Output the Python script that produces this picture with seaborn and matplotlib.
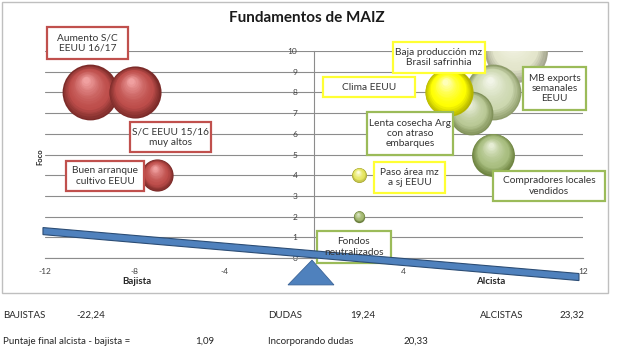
import numpy as np
import matplotlib
matplotlib.use('Agg')
import matplotlib.pyplot as plt
import matplotlib.transforms as mtransforms
from matplotlib.colors import to_rgb
from matplotlib.patches import Rectangle, Polygon
import seaborn as sns

# factores del maiz (orden de dibujo)
factores = ['Aumento S/C\nEEUU 16/17', 'S/C EEUU 15/16\nmuy altos', 'Buen arranque\ncultivo EEUU',
            'Baja producción mz\nBrasil safrinhia', 'MB exports\nsemanales\nEEUU',
            'Lenta cosecha Arg\ncon atraso\nembarques', 'Clima EEUU',
            'Compradores locales\nvendidos', 'Paso área mz\na sj EEUU', 'Fondos\nneutralizados']
sesgo = [-10, -8, -7, 9, 8, 7, 6, 8, 2, 2]
foco = [8, 8, 4, 10, 8, 7, 8, 5, 4, 2]
peso = [7.8, 6.8, 2.6, 9.9, 7.8, 4.8, 5.8, 4.6, 0.56, 0.32]

# colores de cada burbuja: borde oscuro, base, brillo
col_borde = ['#7B2B29', '#7B2B29', '#7B2B29', '#A5A68F', '#8E9C6A', '#7F9058', '#B5B500', '#6F8542', '#A8A838', '#6B7F3E']
col_base = ['#BE4E4B', '#BE4E4B', '#BE4E4B', '#E4E6CC', '#CDD8B0', '#BAC996', '#FFFF00', '#A9BE80', '#E6E660', '#A3B870']
col_brillo = ['#F0A0A0', '#F0A0A0', '#F0A0A0', '#FBFBF2', '#F2F5E8', '#EEF2E2', '#FFFFB8', '#E6EDD4', '#FFFFE0', '#DCE6C4']

# cuadros de texto (x0, y0, ancho, alto en unidades del grafico) y color del marco
cuadros = [(-11.91, 9.61, 3.61, 1.55), (-8.21, 5.12, 3.62, 1.45), (-11.06, 3.24, 3.48, 1.45),
           (3.52, 8.94, 4.11, 1.49), (9.32, 7.15, 2.81, 2.08), (2.36, 4.98, 3.84, 2.07),
           (0.40, 7.78, 4.11, 0.96), (7.99, 2.75, 4.99, 1.45), (2.68, 3.14, 3.16, 1.50),
           (0.13, -0.24, 3.30, 1.54)]
marco = ['#C0504D', '#C0504D', '#C0504D', '#FFFF33', '#9BBB59', '#9BBB59', '#FFFF33', '#9BBB59', '#FFFF33', '#9BBB59']

# balancin
balancin = [(-12.09, 1.47), (11.82, -0.75), (11.82, -1.09), (-12.09, 1.13)]
apoyo = [(-0.09, -0.10), (-1.16, -1.30), (0.89, -1.30)]

xticks = [-12, -8, -4, 0, 4, 8, 12]
xtick_labels = ['-12', '-8', '-4', '', '4', '', '12']

resumen = [('BAJISTAS', 3, 315), ('-22,24', 76, 315), ('DUDAS', 268, 315), ('19,24', 350, 315),
           ('ALCISTAS', 480, 315), ('23,32', 560, 315),
           ('Puntaje final alcista - bajista =', 3, 341), ('1,09', 195, 341),
           ('Incorporando dudas', 268, 341), ('20,33', 403, 341)]

sns.set_style('white')
plt.rcParams['font.family'] = ['Lato', 'DejaVu Sans']

W, H = 640, 360
fig = plt.figure(figsize=(6.4, 3.6), dpi=100)
ax = fig.add_axes([45 / W, 1 - 258 / H, 538 / W, 207 / H])


def mezcla(a, b, t):
    a, b = np.array(to_rgb(a)), np.array(to_rgb(b))
    return tuple(a + (b - a) * t)


n = 18
for i in range(len(sesgo)):
    area = 207 * peso[i]
    r_pt = np.sqrt(area) / 2
    for k in range(n):
        t = k / (n - 1)
        f = 1 - 0.88 * t
        if t < 0.3:
            c = mezcla(col_borde[i], col_base[i], t / 0.3)
        else:
            c = mezcla(col_base[i], col_brillo[i], ((t - 0.3) / 0.7) ** 1.5)
        tr = mtransforms.offset_copy(ax.transData, fig=fig, x=-(1 - f) * 0.15 * r_pt,
                                     y=(1 - f) * 0.5 * r_pt, units='points')
        sns.scatterplot(x=[sesgo[i]], y=[foco[i]], s=area * f * f, color=c, linewidth=0,
                        transform=tr, zorder=3 + i * 0.05 + k * 0.001, legend=False, ax=ax)

for i, (x0, y0, w, h) in enumerate(cuadros):
    ax.add_patch(Rectangle((x0, y0), w, h, facecolor='white', edgecolor=marco[i], lw=1.6,
                           zorder=4, clip_on=False))
    ax.text(x0 + w / 2, y0 + h / 2, factores[i], ha='center', va='center', fontsize=7.3,
            color='#333333', zorder=7, linespacing=1.2)

ax.add_patch(Polygon(balancin, closed=True, facecolor='#4F81BD', edgecolor='#2C4D75', lw=0.8,
                     zorder=5, clip_on=False))
ax.add_patch(Polygon(apoyo, closed=True, facecolor='#4F81BD', edgecolor='#3A6397', lw=0.6,
                     zorder=6, clip_on=False))

ax.set_xlim(-12, 12)
ax.set_ylim(0, 10)
ax.set_xticks(xticks)
ax.set_xticklabels(xtick_labels)
ax.set_yticks(range(0, 11))
ax.yaxis.grid(True, color='#8C8C8C', lw=0.8)
ax.xaxis.grid(False)
ax.set_axisbelow(True)
ax.spines['left'].set_position(('data', 0))
ax.spines['left'].set_color('#8C8C8C')
ax.spines['bottom'].set_color('#8C8C8C')
ax.spines['top'].set_visible(False)
ax.spines['right'].set_visible(False)
ax.tick_params(axis='both', colors='#8C8C8C', labelcolor='#404040', labelsize=6, length=3,
               direction='out')
ax.tick_params(axis='y', pad=9)
ax.tick_params(axis='x', pad=4)
ax.set_xlabel('')
ax.set_ylabel('')
ax.patch.set_alpha(0)

fig.text(307 / W, 1 - 18 / H, 'Fundamentos de MAIZ', ha='center', va='center', fontsize=11,
         weight='bold', color='#1A1A1A')
fig.text(40 / W, 1 - 157 / H, 'Foco', rotation=90, ha='center', va='center', fontsize=5.5,
         weight='bold', color='#262626')
fig.text(137 / W, 1 - 282 / H, 'Bajista', ha='center', va='center', fontsize=7, weight='bold',
         color='#262626')
fig.text(491 / W, 1 - 282 / H, 'Alcista', ha='center', va='center', fontsize=7, weight='bold',
         color='#262626')

for txt, px, py in resumen:
    fig.text(px / W, 1 - py / H, txt, ha='left', va='center', fontsize=7, color='#262626')

fig.add_artist(Rectangle((2 / W, 1 - 293 / H), 606 / W, 291 / H, transform=fig.transFigure,
                         fill=False, edgecolor='#BFBFBF', lw=1))

fig.savefig('out.png', dpi=100)
